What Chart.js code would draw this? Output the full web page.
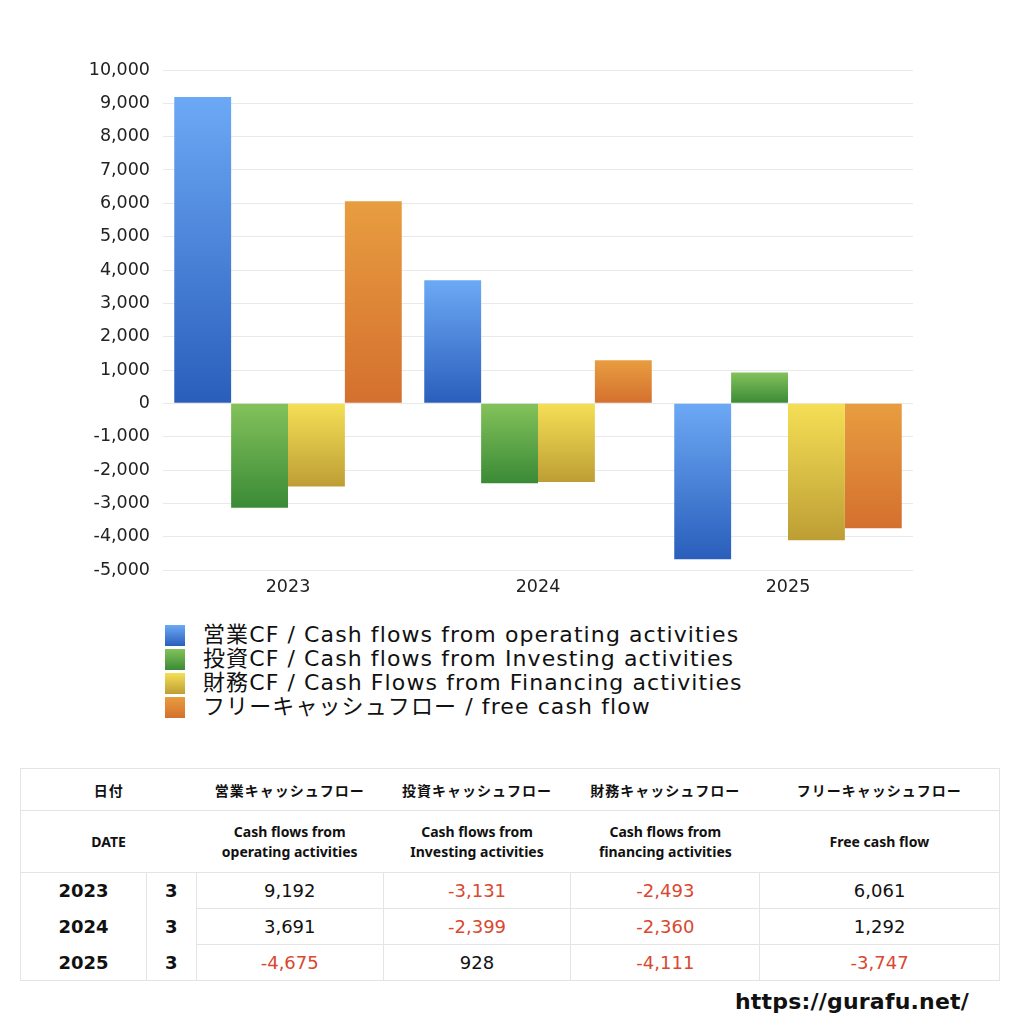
<!DOCTYPE html>
<html><head><meta charset="utf-8">
<script src="https://cdn.jsdelivr.net/npm/chart.js@4.4.1/dist/chart.umd.min.js"></script>
<style>
html,body{margin:0;padding:0;background:#fff;width:1024px;height:1024px;overflow:hidden;font-family:"Noto Sans CJK JP","Noto Sans",sans-serif;color:#111;}
#wrap{position:absolute;left:0;top:0;width:1024px;height:610px;}
#legend{position:absolute;left:165px;top:623px;font-size:22px;line-height:24px;color:#111;font-family:"DejaVu Sans","Noto Sans CJK JP",sans-serif;}
#legend .it{display:flex;align-items:center;height:24px;white-space:nowrap;}
#legend .bx{width:20px;height:21px;margin-right:18px;}
#legend span{letter-spacing:1.1px;}
table{position:absolute;left:20px;top:768px;width:980px;border-collapse:collapse;border:1px solid #e4e4e4;}
td{text-align:center;padding:0;border-top:1px solid #e4e4e4;}
.h1 td{height:41px;font-size:14px;font-weight:bold;letter-spacing:1px;}
.h2 td{height:61px;font-size:14px;font-weight:bold;line-height:20px;font-family:"Noto Sans","Noto Sans CJK JP",sans-serif;}
.d td{height:35px;font-size:18px;border-left:1px solid #e4e4e4;font-family:"DejaVu Sans",sans-serif;}
.d td.yr{font-weight:bold;border-left:none;}
.d td.mo{font-weight:bold;}
.d td.nb{border-top:none;}
.neg{color:#d9482f;}
#url{position:absolute;left:735px;top:989px;font-size:22px;font-weight:bold;font-family:"DejaVu Sans","Noto Sans",sans-serif;letter-spacing:0.2px;}
</style></head>
<body>
<div id="wrap"><canvas id="c"></canvas></div>
<div id="legend"></div>
<table id="tbl"></table>
<div id="url">https://gurafu.net/</div>
<script>
const categories = ["2023","2024","2025"];
const months = ["3","3","3"];
const operatingCF = [9192, 3691, -4675];
const investingCF = [-3131, -2399, 928];
const financingCF = [-2493, -2360, -4111];
const freeCF = [6061, 1292, -3747];
const seriesLabels = [
  "営業CF / Cash flows from operating activities",
  "投資CF / Cash flows from Investing activities",
  "財務CF / Cash Flows from Financing activities",
  "フリーキャッシュフロー / free cash flow"
];
const tableHeadJa = ["営業キャッシュフロー","投資キャッシュフロー","財務キャッシュフロー","フリーキャッシュフロー"];
const tableHeadEn = ["Cash flows from<br>operating activities","Cash flows from<br>Investing activities","Cash flows from<br>financing activities","Free cash flow"];
const colorTop = ["#6ca9f5","#84c25b","#f5df55","#e89d40"];
const colorBottom = ["#2a5ebb","#3a8a36","#bd9e35","#d4702e"];
const seriesData = [operatingCF, investingCF, financingCF, freeCF];

function grad(i){
  return function(ctx){
    const chart = ctx.chart;
    const y = chart.scales && chart.scales.y;
    if(!y || ctx.dataIndex === undefined) return colorTop[i];
    const v = seriesData[i][ctx.dataIndex];
    const p1 = y.getPixelForValue(v), p0 = y.getPixelForValue(0);
    const t = Math.min(p1,p0), b = Math.max(p1,p0);
    if(!isFinite(t) || b - t < 1) return colorTop[i];
    const g = chart.ctx.createLinearGradient(0,t,0,b);
    g.addColorStop(0,colorTop[i]); g.addColorStop(1,colorBottom[i]);
    return g;
  };
}

const tickFont = {family:'"DejaVu Sans"', size:17.5};
const chart = new Chart(document.getElementById('c'), {
  type:'bar',
  data:{
    labels:categories,
    datasets: seriesData.map((d,i)=>({label:seriesLabels[i], data:d, backgroundColor:grad(i), borderWidth:0, categoryPercentage:0.91, barPercentage:1.0}))
  },
  options:{
    responsive:true, maintainAspectRatio:false, animation:false,
    layout:{padding:{left:0,right:111,top:70,bottom:0}},
    plugins:{legend:{display:false}, tooltip:{enabled:false}},
    scales:{
      x:{
        grid:{display:false, drawTicks:false}, border:{display:false},
        ticks:{color:'#222', font:tickFont, padding:7},
        afterFit:(s)=>{s.height=40;}
      },
      y:{
        min:-5000, max:10000,
        grid:{color:'#e9e9e9', drawTicks:false}, border:{display:false},
        ticks:{stepSize:1000, color:'#222', font:tickFont, padding:13,
          callback:(v)=>v.toLocaleString('en-US')},
        afterFit:(s)=>{s.width=163;}
      }
    }
  }
});

// legend
const lg = document.getElementById('legend');
seriesLabels.forEach((t,i)=>{
  const d=document.createElement('div'); d.className='it';
  d.innerHTML='<div class="bx" style="background:linear-gradient('+colorTop[i]+','+colorBottom[i]+')"></div><span>'+t+'</span>';
  lg.appendChild(d);
});

// table
const fmt=(v)=>'<span class="'+(v<0?'neg':'')+'">'+v.toLocaleString('en-US')+'</span>';
let h='<colgroup><col style="width:126px"><col style="width:50px"><col style="width:187px"><col style="width:188px"><col style="width:189px"><col style="width:240px"></colgroup>';
h+='<tr class="h1"><td colspan="2">日付</td>'+tableHeadJa.map(s=>'<td>'+s+'</td>').join('')+'</tr>';
h+='<tr class="h2"><td colspan="2">DATE</td>'+tableHeadEn.map(s=>'<td>'+s+'</td>').join('')+'</tr>';
categories.forEach((c,r)=>{
  const nb = r>0 ? ' nb' : '';
  h+='<tr class="d"><td class="yr'+nb+'">'+c+'</td><td class="mo'+nb+'">'+months[r]+'</td>'+seriesData.map(s=>'<td>'+fmt(s[r])+'</td>').join('')+'</tr>';
});
document.getElementById('tbl').innerHTML=h;
</script>
</body></html>
